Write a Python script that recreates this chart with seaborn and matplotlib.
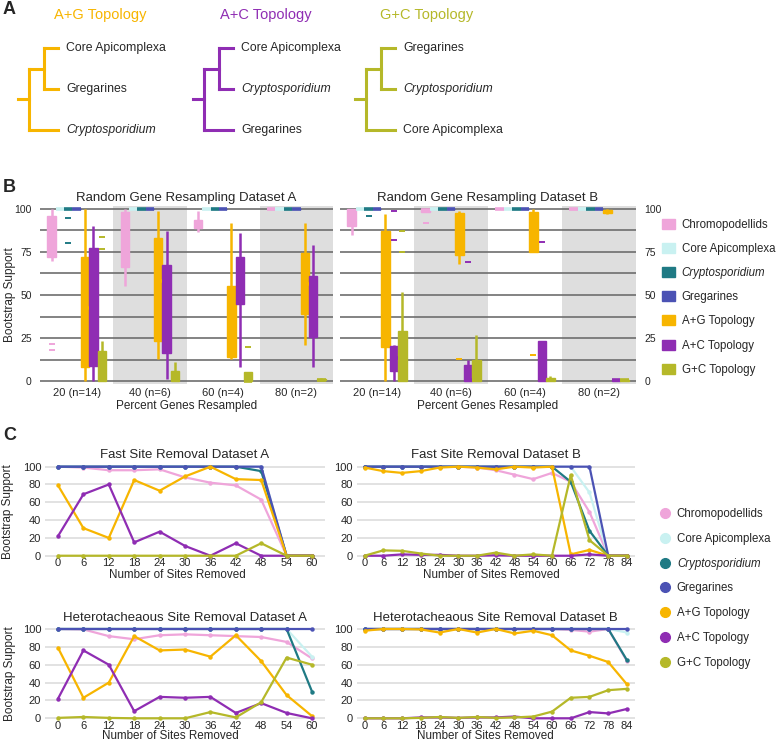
import numpy as np
import pandas as pd
import matplotlib
matplotlib.use("Agg")
import matplotlib.pyplot as plt
from matplotlib.collections import LineCollection
from matplotlib.patches import Patch
from matplotlib.lines import Line2D
import seaborn as sns

# ---------------- data ----------------
clades = ["Chromopodellids", "Core Apicomplexa", "Cryptosporidium", "Gregarines",
          "A+G Topology", "A+C Topology", "G+C Topology"]
colors = ["#efa5da", "#c9f1f1", "#1f7a84", "#4b52b4", "#f7b500", "#8f2db3", "#b5b829"]

topologies = ["A+G Topology", "A+C Topology", "G+C Topology"]
topo_colors = ["#f7b500", "#8f2db3", "#b5b829"]
topo_leaves = [["Core Apicomplexa", "Gregarines", "Cryptosporidium"],
               ["Core Apicomplexa", "Cryptosporidium", "Gregarines"],
               ["Gregarines", "Cryptosporidium", "Core Apicomplexa"]]

groups = ["20 (n=14)", "40 (n=6)", "60 (n=4)", "80 (n=2)"]

# random gene resampling, dataset A: one list of replicate supports per clade
res_a_20 = [[18.2, 21.3, 70, 71, 75, 80, 85, 88, 92, 95, 96.5, 98, 100, 100],
            [100, 100, 100, 100, 100, 100, 100, 100, 100, 100, 100, 100, 100, 100],
            [80, 95, 100, 100, 100, 100, 100, 100, 100, 100, 100, 100, 100, 100],
            [100, 100, 100, 100, 100, 100, 100, 100, 100, 100, 100, 100, 100, 100],
            [0, 2, 5, 7, 12, 20, 35, 50, 60, 70, 73, 85, 95, 100],
            [0, 3, 6, 7, 13, 20, 30, 45, 60, 75, 78, 82, 86, 90],
            [0, 0, 0, 0, 0, 0, 2, 5, 10, 15, 18.2, 23, 77, 84]]
res_a_40 = [[55, 62, 78, 92, 100, 100],
            [100, 100, 100, 100, 100, 100],
            [100, 100, 100, 100, 100, 100],
            [100, 100, 100, 100, 100, 100],
            [13, 18, 38, 78, 85, 99],
            [1, 10, 34, 60, 70, 87],
            [0, 0, 0, 2, 7, 11]]
res_a_60 = [[86.6, 90, 92, 99],
            [100, 100, 100, 100],
            [100, 100, 100, 100],
            [100, 100, 100, 100],
            [13, 14, 42.7, 92],
            [8, 57.3, 67.3, 86],
            [0, 0, 0.5, 20]]
res_a_80 = [[100, 100], [100, 100], [100, 100], [100, 100],
            [21, 92], [8, 79], [0, 1.5]]

# random gene resampling, dataset B
res_b_20 = [[85, 87, 89, 90, 90, 92, 95, 98, 100, 100, 100, 100, 100, 100],
            [100, 100, 100, 100, 100, 100, 100, 100, 100, 100, 100, 100, 100, 100],
            [96, 100, 100, 100, 100, 100, 100, 100, 100, 100, 100, 100, 100, 100],
            [100, 100, 100, 100, 100, 100, 100, 100, 100, 100, 100, 100, 100, 100],
            [0, 5, 12, 17, 27, 35, 45, 60, 75, 85, 88, 92, 95, 97],
            [0, 2, 4, 5, 8, 10, 12, 15, 17, 19, 20.5, 21, 82, 99],
            [0, 0, 0, 0, 1, 3, 8, 15, 22, 27, 29.5, 52, 75, 87]]
res_b_40 = [[92, 98, 99, 100, 100, 100],
            [100, 100, 100, 100, 100, 100],
            [100, 100, 100, 100, 100, 100],
            [100, 100, 100, 100, 100, 100],
            [13, 68, 89, 96, 98, 99],
            [0, 0, 0, 1, 12, 69],
            [0, 0, 0, 5, 15, 27]]
res_b_60 = [[100, 100, 100, 100],
            [100, 100, 100, 100],
            [100, 100, 100, 100],
            [100, 100, 100, 100],
            [15, 95, 98, 100],
            [0, 0, 3.7, 81],
            [0, 0, 1, 3]]
res_b_80 = [[100, 100], [100, 100], [100, 100], [100, 100],
            [97, 100], [0, 1], [0, 1]]

# site removal curves
sites_a = [0, 6, 12, 18, 24, 30, 36, 42, 48, 54, 60]
sites_b = [0, 6, 12, 18, 24, 30, 36, 42, 48, 54, 60, 66, 72, 78, 84]

fast_a = [[100, 99, 96, 96, 97, 88, 82, 79, 63, 0, 0],
          [100, 100, 100, 100, 100, 100, 100, 100, 100, 0, 0],
          [100, 100, 100, 100, 100, 100, 100, 100, 95, 0, 0],
          [100, 100, 100, 100, 100, 100, 100, 100, 100, 0, 0],
          [79, 31, 20, 85, 73, 89, 100, 86, 85, 0, 0],
          [22, 69, 80, 15, 27, 11, 0, 14, 0, 0, 0],
          [0, 0, 0, 0, 0, 0, 0, 0, 14, 0, 0]]
fast_b = [[100, 100, 100, 100, 100, 100, 99, 96, 91, 86, 93, 83, 49, 0, 0],
          [100, 100, 100, 100, 100, 100, 100, 100, 100, 100, 100, 100, 71, 0, 0],
          [100, 100, 100, 100, 100, 100, 100, 100, 100, 100, 100, 83, 28, 0, 0],
          [100, 100, 100, 100, 100, 100, 100, 100, 100, 100, 100, 100, 100, 0, 0],
          [99, 95, 93, 95, 99, 100, 99, 97, 100, 99, 100, 1.5, 6.5, 0, 0],
          [0, 0, 1.5, 1, 1, 0, 0, 0.5, 0, 0, 0, 0, 1.5, 0, 0],
          [0, 6, 5.5, 2.5, 0, 0, 0, 3.5, 0, 1.5, 0, 90.5, 17.5, 0, 0]]
het_a = [[100, 99.5, 92, 88.5, 93, 94, 93, 92, 91, 85.5, 67],
         [100, 100, 100, 100, 100, 100, 100, 100, 100, 100, 69],
         [100, 100, 100, 100, 100, 100, 100, 100, 100, 100, 30],
         [100, 100, 100, 100, 100, 100, 100, 100, 100, 100, 100],
         [79, 23, 40, 92, 76, 77, 69, 93, 64, 26, 2.5],
         [22, 76, 60, 8, 24, 23, 24, 6, 17, 6, 0],
         [0.5, 1.5, 0.5, 0, 0, 0, 7, 1, 18, 68, 60]]
het_b = [[100, 100, 100, 100, 100, 100, 100, 100, 100, 100, 100, 99, 97, 100, 64],
         [100, 100, 100, 100, 100, 100, 100, 100, 100, 100, 100, 100, 100, 100, 96],
         [100, 100, 100, 100, 100, 100, 100, 100, 100, 100, 100, 100, 100, 100, 65],
         [100, 100, 100, 100, 100, 100, 100, 100, 100, 100, 100, 100, 100, 100, 100],
         [98, 100, 100, 99.5, 96, 100, 96, 100, 95, 98, 93, 76, 70, 63, 38],
         [0, 0, 0, 1, 1, 0.5, 1, 1, 2, 0, 0, 0, 7, 5.5, 10.5],
         [0, 0, 0, 0.5, 1.5, 0.5, 1.5, 0.5, 1, 2, 7.5, 23, 24, 31.5, 33]]

# ---------------- style ----------------
sns.set_style("white")
plt.rcParams["font.family"] = ["Liberation Sans", "DejaVu Sans"]

pal = dict(zip(clades, colors))
W, H = 777, 743
fig = plt.figure(figsize=(W / 100, H / 100), dpi=100)


def add_ax(l, t, r, b):
    return fig.add_axes([l / W, 1 - b / H, (r - l) / W, (b - t) / H])


# ---------------- panel A : topologies ----------------
ax0 = fig.add_axes([0, 0, 1, 1])
ax0.set_xlim(0, W)
ax0.set_ylim(H, 0)
ax0.axis("off")
leaf_y = [48, 89, 130]
for name, leaves, col, x0, tx in zip(topologies, topo_leaves, topo_colors,
                                     [18, 193, 355], [100, 266, 427]):
    y_in = (leaf_y[0] + leaf_y[1]) / 2
    y_root = (y_in + leaf_y[2]) / 2
    xa, xb, xc = x0 + 11, x0 + 26, x0 + 40
    segs = [[(x0, y_root), (xa, y_root)], [(xa, y_in), (xa, leaf_y[2])],
            [(xa, y_in), (xb, y_in)], [(xb, leaf_y[0]), (xb, leaf_y[1])],
            [(xb, leaf_y[0]), (xc, leaf_y[0])], [(xb, leaf_y[1]), (xc, leaf_y[1])],
            [(xa, leaf_y[2]), (xc, leaf_y[2])]]
    ax0.add_collection(LineCollection(segs, colors=col, linewidths=2.2, capstyle="projecting"))
    for leaf, y in zip(leaves, leaf_y):
        ax0.text(x0 + 48, y, leaf, fontsize=8.8, va="center",
                 style="italic" if leaf == "Cryptosporidium" else "normal")
    ax0.text(tx, 15, name, color=col, fontsize=10.5, ha="center", va="center")

for letter, y in zip("ABC", [10, 188, 436]):
    fig.text(3 / W, 1 - y / H, letter, fontsize=13, weight="bold", va="center", ha="left")


# ---------------- panel B : box plots ----------------
def box_frame(blocks):
    rows = []
    for g, block in zip(groups, blocks):
        for c, vals in zip(clades, block):
            rows += [(g, c, v) for v in vals]
    return pd.DataFrame(rows, columns=["group", "clade", "support"])


def box_panel(ax, df, title, right):
    for i in (1, 3):
        ax.axvspan(i - 0.5, i + 0.5, color="#dedede", lw=0, zorder=0)
    for y in np.arange(0, 101, 12.5):
        ax.axhline(y, color="#6e6e6e", lw=1.2, zorder=1)
    for c, col in zip(clades, colors):
        sns.boxplot(data=df[df["clade"] == c], x="group", y="support", hue="clade",
                    order=groups, hue_order=clades, palette=pal, saturation=1, dodge=True,
                    linecolor=col, linewidth=1, width=0.8, gap=0, showcaps=False,
                    fliersize=4, flierprops={"marker": "_", "markeredgewidth": 1.4},
                    whiskerprops={"linewidth": 1.8}, medianprops={"linewidth": 2.6},
                    legend=False, ax=ax)
    ax.set_xlim(-0.5, 3.5)
    ax.set_ylim(-1.5, 101.5)
    ax.set_yticks([0, 25, 50, 75, 100])
    ax.set_title(title, fontsize=9.5, pad=4)
    ax.set_xlabel("Percent Genes Resampled", fontsize=8.5)
    ax.xaxis.set_label_coords(0.5, -0.128)
    ax.xaxis.label.set_va("center")
    ax.tick_params(axis="x", length=3, width=1, color="#6e6e6e", pad=0.5, labelsize=8)
    ax.tick_params(axis="y", length=0, pad=6, labelsize=7.5)
    sns.despine(ax=ax, left=True, bottom=True)
    if right:
        ax.yaxis.tick_right()
        ax.set_ylabel("")
    else:
        ax.set_ylabel("Bootstrap Support", fontsize=8.5)
        ax.yaxis.set_label_coords(-0.102, 0.5)
        ax.yaxis.label.set_va("center")


axBa = add_ax(40, 206.4, 333, 383.6)
box_panel(axBa, box_frame([res_a_20, res_a_40, res_a_60, res_a_80]),
          "Random Gene Resampling Dataset A", False)
axBb = add_ax(340, 206.4, 636, 383.6)
box_panel(axBb, box_frame([res_b_20, res_b_40, res_b_60, res_b_80]),
          "Random Gene Resampling Dataset B", True)


# ---------------- panel C : site removal ----------------
def line_panel(ax, sites, series, title, xlim, xlab_xy, ylab_x, title_pad):
    df = pd.DataFrame({"sites": np.tile(sites, len(clades)),
                       "support": np.concatenate(series),
                       "clade": np.repeat(clades, len(sites))})
    sns.lineplot(data=df, x="sites", y="support", hue="clade", hue_order=clades,
                 palette=pal, marker="o", markersize=3.2, markeredgewidth=0,
                 linewidth=1.6, errorbar=None, legend=False, ax=ax)
    ax.set_xlim(*xlim)
    ax.set_ylim(-3, 103)
    ax.set_xticks(sites)
    ax.set_yticks([0, 20, 40, 60, 80, 100])
    ax.grid(axis="y", color="#e2e2e2", lw=1.4)
    ax.grid(axis="x", visible=False)
    ax.set_axisbelow(True)
    sns.despine(ax=ax, left=True, bottom=True)
    ax.tick_params(axis="both", length=0, labelsize=8)
    ax.tick_params(axis="x", pad=0)
    ax.tick_params(axis="y", pad=3)
    ax.set_title(title, fontsize=9.5, pad=title_pad)
    ax.set_xlabel("Number of Sites Removed", fontsize=8.4)
    ax.xaxis.set_label_coords(*xlab_xy)
    ax.xaxis.label.set_va("center")
    if ylab_x is None:
        ax.set_ylabel("")
    else:
        ax.set_ylabel("Bootstrap Support", fontsize=8.5)
        ax.yaxis.set_label_coords(ylab_x, 0.5)
        ax.yaxis.label.set_va("center")


line_panel(add_ax(45.3, 464, 324.7, 558.4), sites_a, fast_a,
           "Fast Site Removal Dataset A", (-3, 63), (0.471, -0.18), -0.133, 4.5)
line_panel(add_ax(356.7, 464, 634.8, 558.4), sites_b, fast_b,
           "Fast Site Removal Dataset B", (-2.5, 86.5), (0.485, -0.18), None, 4.5)
line_panel(add_ax(45.3, 626.3, 324.7, 721), sites_a, het_a,
           "Heterotacheaous Site Removal Dataset A", (-3, 63), (0.446, -0.158), -0.126, 3.5)
line_panel(add_ax(356.7, 626.3, 634.8, 721), sites_b, het_b,
           "Heterotacheaous Site Removal Dataset B", (-2.5, 86.5), (0.461, -0.158), None, 3.5)

# ---------------- legends ----------------
legB = fig.legend([Patch(facecolor=c, edgecolor=c) for c in colors], clades,
                  loc="upper left", bbox_to_anchor=(662 / W, 1 - 219 / H),
                  frameon=False, borderpad=0, borderaxespad=0, fontsize=8.3,
                  handlelength=1.1, handleheight=0.95, handletextpad=0.6, labelspacing=1.05)
legC = fig.legend([Line2D([], [], ls="", marker="o", ms=7, mfc=c, mec=c) for c in colors],
                  clades, loc="upper left", bbox_to_anchor=(659 / W, 1 - 508 / H),
                  frameon=False, borderpad=0, borderaxespad=0, fontsize=8.3,
                  handlelength=1.0, handletextpad=0.55, labelspacing=1.11)
for leg in (legB, legC):
    leg.get_texts()[2].set_style("italic")

fig.savefig("out.png", dpi=100)
